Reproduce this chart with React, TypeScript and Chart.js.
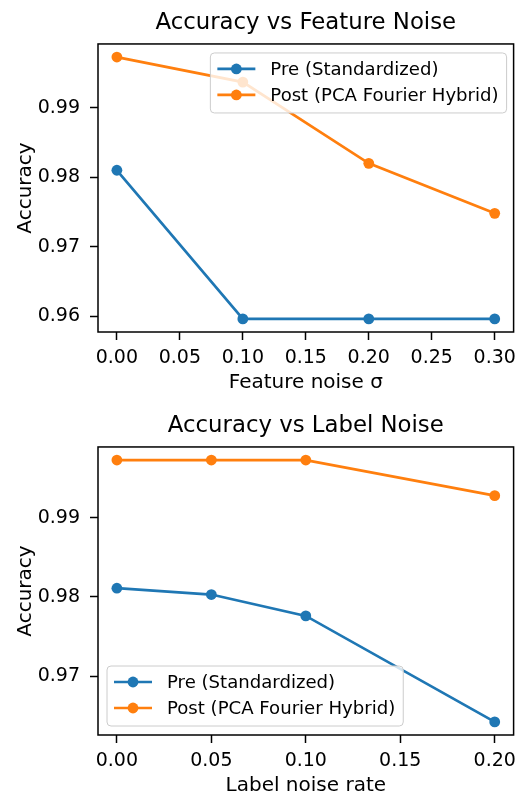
import React, { useEffect, useRef } from "react";
import { Chart, registerables } from "chart.js";

Chart.register(...registerables);

// ---- data ----
const seriesNames = ["Pre (Standardized)", "Post (PCA Fourier Hybrid)"];
const seriesColors = ["#1f77b4", "#ff7f0e"];

const featureTitle = "Accuracy vs Feature Noise";
const featureXLabel = "Feature noise σ";
const featureNoise = [0.0, 0.1, 0.2, 0.3];
const featurePre = [0.981, 0.9596, 0.9596, 0.9596];
const featurePost = [0.9973, 0.9937, 0.982, 0.9748];
const featureXTicks = [0, 0.05, 0.1, 0.15, 0.2, 0.25, 0.3];
const featureYTicks = [0.96, 0.97, 0.98, 0.99];

const labelTitle = "Accuracy vs Label Noise";
const labelXLabel = "Label noise rate";
const labelNoise = [0.0, 0.05, 0.1, 0.2];
const labelPre = [0.9811, 0.9803, 0.9776, 0.9642];
const labelPost = [0.9973, 0.9973, 0.9973, 0.9928];
const labelXTicks = [0, 0.05, 0.1, 0.15, 0.2];
const labelYTicks = [0.97, 0.98, 0.99];

const yLabel = "Accuracy";

// ---- styling ----
const FONT = '"DejaVu Sans", "Liberation Sans", sans-serif';
const W = 519;
const TICK_SIZE = 19;
const LABEL_SIZE = 20;
const TITLE_SIZE = 22.8;
const LEGEND_SIZE = 18.1;

function marginRange(vals: number[]): [number, number] {
  const lo = Math.min(...vals);
  const hi = Math.max(...vals);
  const span = hi - lo;
  return [lo - 0.05 * span, hi + 0.05 * span];
}

const frameLegendPlugin = {
  id: "frameLegend",
  afterDatasetsDraw(chart: any, _args: any, opts: any) {
    const { ctx, chartArea: a } = chart;
    ctx.save();
    // axes frame
    ctx.strokeStyle = "#000";
    ctx.lineWidth = 1.5;
    ctx.strokeRect(a.left, a.top, a.right - a.left, a.bottom - a.top);

    // legend
    ctx.font = `${LEGEND_SIZE}px ${FONT}`;
    const tw = Math.max(...seriesNames.map((n) => ctx.measureText(n).width));
    const w = 60 + tw + 8;
    const h = 60;
    let x: number;
    let y: number;
    if (opts.corner === "upper right") {
      x = a.right - opts.dx - w;
      y = a.top + opts.dy;
    } else {
      x = a.left + opts.dx;
      y = a.bottom - opts.dy - h;
    }
    ctx.beginPath();
    (ctx as any).roundRect(x, y, w, h, 4);
    ctx.fillStyle = "rgba(255,255,255,0.8)";
    ctx.fill();
    ctx.strokeStyle = "#cccccc";
    ctx.lineWidth = 1;
    ctx.stroke();

    const rows = [y + 16, y + 42];
    seriesNames.forEach((name, i) => {
      const ry = rows[i];
      ctx.strokeStyle = seriesColors[i];
      ctx.lineWidth = 2.7;
      ctx.beginPath();
      ctx.moveTo(x + 7, ry);
      ctx.lineTo(x + 45, ry);
      ctx.stroke();
      ctx.fillStyle = seriesColors[i];
      ctx.beginPath();
      ctx.arc(x + 26, ry, 5.4, 0, Math.PI * 2);
      ctx.fill();
      ctx.fillStyle = "#000";
      ctx.textBaseline = "middle";
      ctx.textAlign = "left";
      ctx.fillText(name, x + 60, ry + 1.5);
    });
    ctx.restore();
  },
};

type Spec = {
  title: string;
  xLabel: string;
  xs: number[];
  pre: number[];
  post: number[];
  xTicks: number[];
  yTicks: number[];
  legend: { corner: string; dx: number; dy: number };
  height: number;
  top: number;
};

function makeConfig(spec: Spec): any {
  const [xMin, xMax] = marginRange(spec.xs);
  const [yMin, yMax] = marginRange([...spec.pre, ...spec.post]);
  const tickFont = { family: FONT, size: TICK_SIZE };
  const labelFont = { family: FONT, size: LABEL_SIZE };
  const series = [spec.pre, spec.post];
  return {
    type: "line",
    data: {
      datasets: series.map((vals, i) => ({
        label: seriesNames[i],
        data: spec.xs.map((x, j) => ({ x, y: vals[j] })),
        borderColor: seriesColors[i],
        backgroundColor: seriesColors[i],
        pointBackgroundColor: seriesColors[i],
        pointBorderColor: seriesColors[i],
        borderWidth: 2.7,
        pointRadius: 5.4,
        pointBorderWidth: 0,
        tension: 0,
        order: 2 - i,
        clip: false,
      })),
    },
    options: {
      responsive: false,
      animation: false,
      devicePixelRatio: 1,
      layout: { padding: { left: 0, right: 5, top: 0, bottom: 0 } },
      plugins: {
        legend: { display: false },
        tooltip: { enabled: false },
        title: {
          display: true,
          fullSize: false,
          text: spec.title,
          color: "#000",
          font: { family: FONT, size: TITLE_SIZE, weight: "normal" },
          padding: { top: 9.5, bottom: 7.1 },
        },
        frameLegend: spec.legend,
      },
      scales: {
        x: {
          type: "linear",
          min: xMin,
          max: xMax,
          afterBuildTicks: (s: any) => {
            s.ticks = spec.xTicks.map((v) => ({ value: v }));
          },
          afterFit: (s: any) => {
            s.height = 70;
            s.paddingLeft = 0;
            s.paddingRight = 0;
          },
          ticks: {
            callback: (v: any) => Number(v).toFixed(2),
            font: tickFont,
            color: "#000",
            padding: 6.9,
            maxRotation: 0,
            autoSkip: false,
          },
          grid: { drawOnChartArea: false, tickLength: 8, tickWidth: 1.5, tickColor: "#000" },
          border: { display: false },
          title: {
            display: true,
            text: spec.xLabel,
            color: "#000",
            font: labelFont,
            padding: { top: 0, bottom: 7.3 },
          },
        },
        y: {
          type: "linear",
          min: yMin,
          max: yMax,
          afterBuildTicks: (s: any) => {
            s.ticks = spec.yTicks.map((v) => ({ value: v }));
          },
          afterFit: (s: any) => {
            s.width = 98;
            s.paddingTop = 0;
            s.paddingBottom = 0;
          },
          ticks: {
            callback: (v: any) => Number(v).toFixed(2),
            font: tickFont,
            color: "#000",
            padding: 10,
            autoSkip: false,
          },
          grid: { drawOnChartArea: false, tickLength: 8, tickWidth: 1.5, tickColor: "#000" },
          border: { display: false },
          title: {
            display: true,
            text: yLabel,
            color: "#000",
            font: labelFont,
            padding: { top: 14, bottom: 0 },
          },
        },
      },
    },
    plugins: [frameLegendPlugin],
  };
}

function Panel({ spec }: { spec: Spec }) {
  const ref = useRef<HTMLCanvasElement | null>(null);
  useEffect(() => {
    if (!ref.current) return;
    const chart = new Chart(ref.current, makeConfig(spec));
    return () => chart.destroy();
  }, [spec]);
  return (
    <div style={{ position: "absolute", left: 0, top: spec.top, width: W, height: spec.height }}>
      <canvas ref={ref} width={W} height={spec.height} style={{ display: "block" }} />
    </div>
  );
}

const featureSpec: Spec = {
  title: featureTitle,
  xLabel: featureXLabel,
  xs: featureNoise,
  pre: featurePre,
  post: featurePost,
  xTicks: featureXTicks,
  yTicks: featureYTicks,
  legend: { corner: "upper right", dx: 7, dy: 9 },
  height: 402,
  top: 0,
};

const labelSpec: Spec = {
  title: labelTitle,
  xLabel: labelXLabel,
  xs: labelNoise,
  pre: labelPre,
  post: labelPost,
  xTicks: labelXTicks,
  yTicks: labelYTicks,
  legend: { corner: "lower left", dx: 9, dy: 9 },
  height: 402,
  top: 403,
};

export default function App() {
  return (
    <div
      style={{
        position: "absolute",
        left: 0,
        top: 0,
        width: W,
        height: 795,
        overflow: "hidden",
        background: "#fff",
      }}
    >
      <Panel spec={featureSpec} />
      <Panel spec={labelSpec} />
    </div>
  );
}
